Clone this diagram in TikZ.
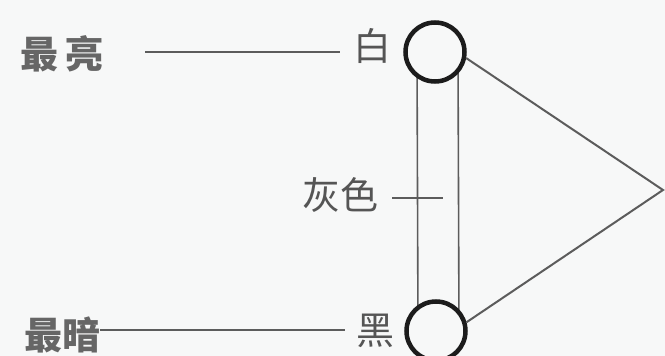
\documentclass[tikz,border=0pt]{standalone}
\usepackage{fontspec}
\newfontfamily\cjk{Noto Sans CJK SC}
\definecolor{txtgray}{HTML}{555555}
\definecolor{linegray}{HTML}{5C5C5C}
\definecolor{ringblack}{HTML}{1C1C1C}
\definecolor{bg}{HTML}{F7F8F8}
\pgfdeclarelayer{background}
\pgfsetlayers{background,main}
\begin{document}
\begin{tikzpicture}[x=1pt,y=-1pt,
  lbl/.style={font=\cjk\fontsize{38}{38}\selectfont, text=txtgray, inner sep=0pt},
  boldlbl/.style={lbl, font=\cjk\bfseries\fontsize{38}{38}\selectfont, text=txtgray!90!white},
  ring/.style={circle, draw=ringblack, line width=4.5pt, minimum size=59pt, inner sep=0pt, fill=bg},
  thinline/.style={draw=linegray, line width=1.6pt}]
\useasboundingbox (0,0) rectangle (665,356);
\clip (0,0) rectangle (665,356);
\node[boldlbl] (zl) at (62,54) {最\hspace{0.2em}亮};
\node[boldlbl] (za) at (62,335) {最暗};
\node[lbl] (bai) at (372,46) {白};
\node[lbl] (hei) at (375,331) {黑};
\node[lbl] (hui) at (340,195) {灰色};
\node[ring] (top) at (435,52) {};
\node[ring] (bot) at (436,331) {};
\coordinate (apex) at (663,190);
\coordinate (huiend) at (443,198);
\begin{pgfonlayer}{background}
\fill[bg] (0,0) rectangle (665,356);
\draw[thinline] ([xshift=-18pt]top.center) -- ([xshift=-18pt]bot.center);
\draw[thinline] ([xshift=23pt]top.center) -- ([xshift=23pt]bot.center);
\end{pgfonlayer}
\draw[thinline] ([xshift=41pt,yshift=2pt]zl.east) -- ([xshift=-13pt,yshift=-6pt]bai.west);
\draw[thinline] ([yshift=5pt]za.east) -- ([xshift=-11pt,yshift=1pt]hei.west);
\draw[thinline] ([xshift=14pt,yshift=-3pt]hui.east) -- (huiend);
\draw[thinline, line width=2pt] (top.-11) -- (apex) -- (bot.16);
\end{tikzpicture}
\end{document}
